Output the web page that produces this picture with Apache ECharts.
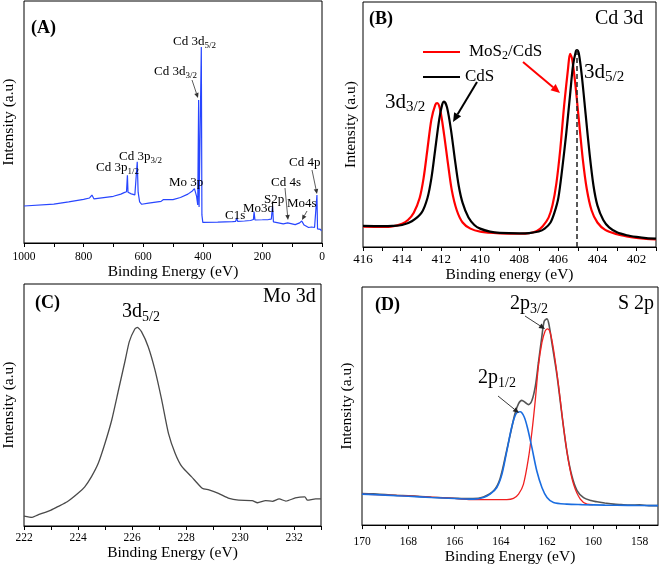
<!DOCTYPE html>
<html><head><meta charset="utf-8">
<script src="https://cdn.jsdelivr.net/npm/echarts/dist/echarts.min.js"></script>
<style>html,body{margin:0;padding:0;background:#fff}#c{width:661px;height:566px}</style>
</head><body><div id="c"></div>
<script>
// ---------- data ----------
// (A) survey spectrum
const surveyEnergy = [1000,900,850,800,780,772,765,760,700,675,664,656,653,651,640,628,622,620,617,612,605,582,540,533,530,500,475,450,435,428,425,421,417,415,414,412.5,410,407,405,403,400,397,350,300,290,286,283,260,240,230,228,225,200,180,170,166,163,160,130,115,113,110,90,75,68,60,45,35,25,19,17,15,10,5,2,0];
const surveyIntensity = [15.3,16.1,17.0,18.0,18.6,19.8,18.2,18.0,19.3,20.2,20.8,21.2,28.0,21.0,20.3,19.9,20.5,33.6,21.0,17.0,16.0,16.5,17.2,17.9,17.2,17.9,18.8,20.2,21.5,22.5,22.7,19.4,15.7,15.3,59.1,14.9,14.5,15.3,81.0,11.6,8.5,8.4,8.6,8.8,8.9,10.3,8.9,9.1,9.3,9.7,12.9,9.5,9.6,9.7,9.9,15.4,8.7,7.9,7.9,8.3,8.8,7.9,7.6,8.3,9.1,7.4,6.4,6.6,6.4,6.2,19.8,5.8,5.4,5.6,5.0,5.0];
// (B) Cd 3d
const cdsEnergy = [416,415,414.5,414,413.5,413,412.7,412.5,412.3,412.1,411.95,411.85,411.7,411.5,411.3,411.1,410.9,410.6,410.3,410,409.5,409,408,407.5,407,406.7,406.4,406.2,406,405.8,405.6,405.4,405.25,405.1,405.05,404.95,404.8,404.6,404.4,404.2,404,403.7,403.4,403,402.5,402,401.5,401];
const cdsIntensity = [8.6,8.5,8.6,9.0,10.5,14,20,28,40,52,58,59.3,57,48,36,25,18,12,9,7.5,6.3,5.8,5.6,5.7,6.3,7.5,10,14,20,32,46,62,74,80,80.4,79,70,54,38,25,17,11,8,6,4.8,4.1,3.6,3.4];
const mosEnergy = [416,415,414.5,414,413.7,413.4,413.1,412.9,412.7,412.5,412.3,412.2,412.05,411.85,411.65,411.45,411.2,410.9,410.5,410,409,408,407.5,407.1,406.8,406.5,406.3,406.1,405.9,405.7,405.5,405.4,405.3,405.15,404.95,404.75,404.55,404.3,404,403.6,403,402.5,402,401.5,401];
const mosIntensity = [8.3,8.2,8.4,9.5,11,14,20,28,40,52,58,58.7,56,46,34,23,15,10,7.5,6.3,5.6,5.4,5.6,6.5,8.5,12,17,26,40,58,73,78.8,77,68,52,36,24,15,10,7,5.2,4.3,3.7,3.3,3.1];
const cd52Position = 405.05;
// (C) Mo 3d
const moEnergy = [222.0,222.3,222.5,223.0,223.25,223.6,224.0,224.25,224.5,224.75,225.0,225.25,225.5,225.75,225.9,226.1,226.2,226.35,226.6,226.85,227.1,227.35,227.6,227.85,228.2,228.6,228.85,229.2,229.6,229.95,230.45,230.65,230.95,231.2,231.45,231.7,232.05,232.4,232.5,232.8,233];
const moIntensity = [4.1,3.6,4.5,6.6,8,10,13.5,16.2,20.4,25.9,34.2,43.8,56.2,68.6,76.2,81.3,82.1,80.3,74.1,64.5,52.1,38.3,30,24.5,20.4,15.6,14.9,13.5,11.4,10.7,10.5,9.6,10.5,10.2,11.2,10.3,11.6,12.0,10.7,11.2,11.2];
// (D) S 2p
const sRawEnergy = [170,169.5,169,168.5,168,167.5,167,166.5,166,165.6,165.2,164.75,164.3,164.03,163.74,163.5,163.38,163.23,163.09,162.94,162.8,162.65,162.5,162.37,162.22,162.12,162.0,161.9,161.79,161.57,161.35,161.14,160.92,160.7,160.42,160.1,159.84,159.5,159.12,158.8,158.4,158,157.6,157.2];
const sRawIntensity = [13.3,13.1,12.8,12.5,12.3,12.0,11.7,11.5,11.3,11.1,11.1,11.8,14.5,19.5,31.5,42,47,51,52.4,51.5,50.6,52.4,58.6,68.3,79.4,85.6,86.6,83.5,76.6,63,46,31,20.5,14.5,11.5,10.3,9.8,9.3,8.8,8.6,8.4,8.5,8.2,8.2];
const s32Energy = [170,168,166,165.3,164.4,163.74,163.45,163.23,163.02,162.8,162.65,162.5,162.37,162.22,162.08,161.98,161.86,161.72,161.5,161.28,161.07,160.85,160.56,160.27,160.0];
const s32Intensity = [13,12.3,11.2,10.7,10.7,10.7,11.2,13,17.1,28.2,39.3,53.1,66.9,76.6,81.5,82.4,80.8,73.9,58.6,40.7,26.8,17.1,10.9,8.8,8.6];
const s12Energy = [170,169,168,167,166,165.18,164.75,164.46,164.17,163.95,163.74,163.52,163.33,163.16,162.99,162.84,162.65,162.44,162.22,162.0,161.72,161.14,160.5,159.5,158.5,157.2];
const s12Intensity = [13,12.6,12.1,11.6,11.2,10.9,11.6,13,15.8,21.3,31,41.4,46.9,47.6,45.5,40.7,32.4,22.7,15.8,11.6,9.5,8.8,8.6,8.4,8.3,8.2];
// tick values / labels
const ticksA = [0,100,200,300,400,500,600,700,800,900,1000];
const labelsA = [0,200,400,600,800,1000];
const ticksB = [401,402,403,404,405,406,407,408,409,410,411,412,413,414,415,416];
const labelsB = [402,404,406,408,410,412,414,416];
const ticksC = [222,223,224,225,226,227,228,229,230,231,232,233];
const labelsC = [222,224,226,228,230,232];
const ticksD = [158,159,160,161,162,163,164,165,166,167,168,169,170];
const labelsD = [158,160,162,164,166,168,170];
const seriesNames = ['MoS2/CdS','CdS'];

// ---------- chart ----------
const FONT = '"Liberation Serif","Times New Roman",serif';
const zip = (xs, ys) => xs.map((x, i) => [x, ys[i]]);
const chart = echarts.init(document.getElementById('c'), null, {renderer: 'canvas'});

const grids = [
  {left: 23, top: 1, width: 299, height: 242},
  {left: 363, top: 2, width: 293, height: 245},
  {left: 23, top: 284, width: 298, height: 242},
  {left: 362, top: 287, width: 296, height: 241}
].map(g => Object.assign(g, {show: true, borderColor: '#000', borderWidth: 1, backgroundColor: 'transparent'}));

function xAx(i, min, max, inv, ticks, labels, name, fs, margin, nameGap) {
  return {
    type: 'value', gridIndex: i, inverse: inv, min: min, max: max,
    axisLine: {show: true, onZero: false, lineStyle: {color: '#000', width: 1}},
    axisTick: {show: true, inside: false, length: 4, customValues: ticks, lineStyle: {color: '#000'}},
    axisLabel: {customValues: labels, fontFamily: FONT, fontSize: fs, color: '#000', margin: margin, formatter: v => String(v)},
    splitLine: {show: false},
    name: name, nameLocation: 'middle', nameGap: nameGap,
    nameTextStyle: {fontFamily: FONT, fontSize: 15.5, color: '#000', verticalAlign: 'top'}
  };
}
function yAx(i, gap) {
  return {
    type: 'value', gridIndex: i, min: 0, max: 100,
    axisLine: {show: false}, axisTick: {show: false}, axisLabel: {show: false}, splitLine: {show: false},
    name: 'Intensity (a.u)', nameLocation: 'middle', nameGap: gap,
    nameTextStyle: {fontFamily: FONT, fontSize: 15.5, color: '#000'}
  };
}

const option = {
  animation: false,
  backgroundColor: '#fff',
  grid: grids,
  xAxis: [
    xAx(0, 0, 1000, true, ticksA, labelsA, 'Binding Energy (eV)', 11.5, 8, 18),
    xAx(1, 401, 416, true, ticksB, labelsB, 'Binding energy (eV)', 13, 6, 18),
    xAx(2, 222, 233, false, ticksC, labelsC, 'Binding Energy (eV)', 11.5, 6, 19),
    xAx(3, 157.2, 170, true, ticksD, labelsD, 'Binding Energy (eV)', 11.5, 11, 19)
  ],
  yAxis: [yAx(0, 7), yAx(1, 4), yAx(2, 7), yAx(3, 7)],
  series: [
    {type: 'line', name: 'Survey', xAxisIndex: 0, yAxisIndex: 0, data: zip(surveyEnergy, surveyIntensity),
     showSymbol: false, lineStyle: {color: '#2846ff', width: 1.2}},
    {type: 'line', name: seriesNames[0], xAxisIndex: 1, yAxisIndex: 1, data: zip(mosEnergy, mosIntensity),
     showSymbol: false, smooth: 0.3, lineStyle: {color: '#ff0000', width: 2.2}},
    {type: 'line', name: seriesNames[1], xAxisIndex: 1, yAxisIndex: 1, data: zip(cdsEnergy, cdsIntensity),
     showSymbol: false, smooth: 0.3, lineStyle: {color: '#000', width: 2.2},
     markLine: {silent: true, symbol: 'none', label: {show: false},
       lineStyle: {type: [5, 3], color: '#222', width: 1.5},
       data: [[{coord: [cd52Position, cdsIntensity[cdsEnergy.indexOf(cd52Position)]]}, {coord: [cd52Position, 0]}]]}},
    {type: 'line', name: 'Mo 3d', xAxisIndex: 2, yAxisIndex: 2, data: zip(moEnergy, moIntensity),
     showSymbol: false, smooth: 0.2, lineStyle: {color: '#4a4a4a', width: 1.3}},
    {type: 'line', name: 'S 2p raw', xAxisIndex: 3, yAxisIndex: 3, data: zip(sRawEnergy, sRawIntensity),
     showSymbol: false, smooth: 0.3, lineStyle: {color: '#555', width: 1.6}},
    {type: 'line', name: '2p3/2', xAxisIndex: 3, yAxisIndex: 3, data: zip(s32Energy, s32Intensity),
     showSymbol: false, smooth: 0.3, lineStyle: {color: '#f02020', width: 1.3}},
    {type: 'line', name: '2p1/2', xAxisIndex: 3, yAxisIndex: 3, data: zip(s12Energy, s12Intensity),
     showSymbol: false, smooth: 0.3, lineStyle: {color: '#1a6de0', width: 1.6}}
  ]
};

// ---------- annotations ----------
function txt(x, y, text, fs, opts) {
  opts = opts || {};
  const f = Math.round(fs * 0.7);
  return {
    type: 'text', z: 100, silent: true,
    style: {
      x: x, y: y, text: text, fill: '#000',
      font: (opts.bold ? 'bold ' : '') + fs + 'px ' + FONT,
      textAlign: 'left', textVerticalAlign: 'middle', align: 'left', verticalAlign: 'middle',
      rich: {
        m: {fontSize: fs, fontFamily: FONT, fontWeight: opts.bold ? 'bold' : 'normal', lineHeight: Math.round(fs * 1.2), verticalAlign: 'middle', color: '#000'},
        s: {fontSize: f, fontFamily: FONT, lineHeight: f, verticalAlign: 'bottom', color: '#000'}
      }
    }
  };
}
function arrow(x1, y1, x2, y2, color, w, head) {
  const a = Math.atan2(y2 - y1, x2 - x1);
  const h = head, hw = head * 0.45;
  const bx = x2 - h * Math.cos(a), by = y2 - h * Math.sin(a);
  return [
    {type: 'line', z: 100, silent: true, shape: {x1: x1, y1: y1, x2: bx, y2: by}, style: {stroke: color, lineWidth: w}},
    {type: 'polygon', z: 100, silent: true, shape: {points: [[x2, y2], [bx - hw * Math.sin(a), by + hw * Math.cos(a)], [bx + hw * Math.sin(a), by - hw * Math.cos(a)]]}, style: {fill: color}}
  ];
}
const g = [];
// A
g.push(txt(31, 28, '{m|(A)}', 18, {bold: true}));
g.push(txt(173, 42, '{m|Cd 3d}{s|5/2}', 13));
g.push(txt(154, 72, '{m|Cd 3d}{s|3/2}', 13));
g.push(txt(119, 157, '{m|Cd 3p}{s|3/2}', 13));
g.push(txt(96, 168, '{m|Cd 3p}{s|1/2}', 13));
g.push(txt(169, 183, '{m|Mo 3p}', 13));
g.push(txt(225, 216, '{m|C1s}', 13));
g.push(txt(243, 209, '{m|Mo3d}', 13));
g.push(txt(264, 200, '{m|S2p}', 13));
g.push(txt(271, 183, '{m|Cd 4s}', 13));
g.push(txt(287, 204, '{m|Mo4s}', 13));
g.push(txt(289, 163, '{m|Cd 4p}', 13));
g.push(...arrow(192, 80, 198, 98, '#333', 0.8, 5));
g.push(...arrow(285, 188, 288, 220, '#333', 0.8, 5));
g.push(...arrow(307, 211, 302, 220, '#333', 0.8, 5));
g.push(...arrow(312, 170, 317, 194, '#333', 0.8, 5));
// B
g.push(txt(369, 19, '{m|(B)}', 18, {bold: true}));
g.push(txt(595, 19, '{m|Cd 3d}', 20));
g.push(txt(385, 102, '{m|3d}{s|3/2}', 21));
g.push(txt(584, 72, '{m|3d}{s|5/2}', 21));
g.push({type: 'line', z: 100, silent: true, shape: {x1: 423, y1: 52, x2: 460, y2: 52}, style: {stroke: '#ff0000', lineWidth: 2}});
g.push({type: 'line', z: 100, silent: true, shape: {x1: 423, y1: 77, x2: 460, y2: 77}, style: {stroke: '#000', lineWidth: 2}});
g.push(txt(469, 52, '{m|MoS}{s|2}{m|/CdS}', 17));
g.push(txt(465, 77, '{m|CdS}', 17));
g.push(...arrow(523, 62, 560, 93, '#ff0000', 2, 9));
g.push(...arrow(477, 82, 453, 122, '#000', 2, 9));
// C
g.push(txt(35, 303, '{m|(C)}', 18, {bold: true}));
g.push(txt(263, 297, '{m|Mo 3d}', 20));
g.push(txt(122, 312, '{m|3d}{s|5/2}', 20));
// D
g.push(txt(375, 305, '{m|(D)}', 18, {bold: true}));
g.push(txt(618, 304, '{m|S 2p}', 20));
g.push(txt(510, 304, '{m|2p}{s|3/2}', 20));
g.push(txt(478, 378, '{m|2p}{s|1/2}', 20));
g.push(...arrow(525, 316, 545, 329, '#222', 0.9, 6));
g.push(...arrow(498, 396, 519, 413, '#222', 0.9, 6));
option.graphic = {elements: g};

chart.setOption(option);
</script>
</body></html>
